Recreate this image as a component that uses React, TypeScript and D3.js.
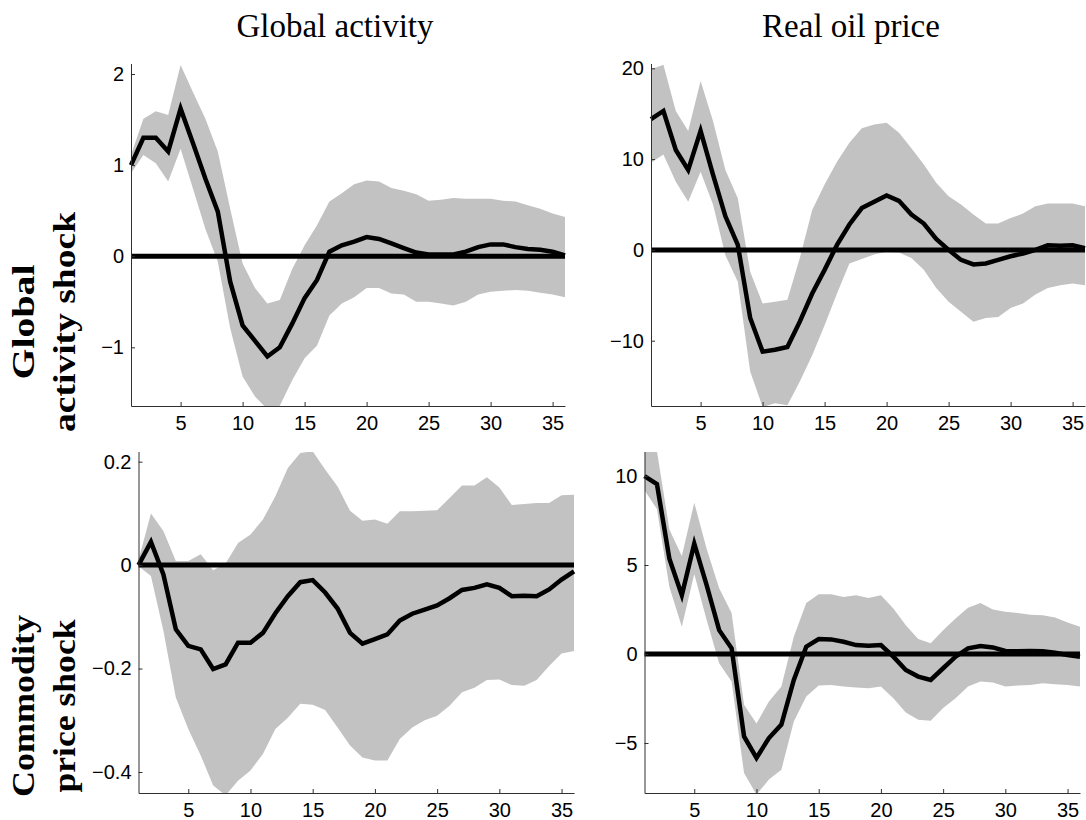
import React, { useRef, useEffect } from 'react';
import * as d3 from 'd3';

const horizon = [1, 2, 3, 4, 5, 6, 7, 8, 9, 10, 11, 12, 13, 14, 15, 16, 17, 18, 19, 20, 21, 22, 23, 24, 25, 26, 27, 28, 29, 30, 31, 32, 33, 34, 35, 36];
const xTicks = [5, 10, 15, 20, 25, 30, 35];
const colTitles = ['Global activity', 'Real oil price'];
const rowTitles = [['Global', 'activity shock'], ['Commodity', 'price shock']];

// global activity shock -> global activity
const actOnAct = [1.00, 1.30, 1.30, 1.15, 1.62, 1.24, 0.85, 0.49, -0.28, -0.76, -0.93, -1.10, -1.00, -0.74, -0.46, -0.26, 0.05, 0.12, 0.16, 0.21, 0.19, 0.14, 0.09, 0.04, 0.02, 0.02, 0.02, 0.05, 0.10, 0.13, 0.13, 0.10, 0.08, 0.07, 0.05, 0.01];
const actOnActUpper = [1.11, 1.51, 1.59, 1.55, 2.10, 1.80, 1.51, 1.15, 0.52, -0.08, -0.35, -0.52, -0.48, -0.14, 0.12, 0.34, 0.60, 0.69, 0.79, 0.83, 0.82, 0.75, 0.72, 0.68, 0.61, 0.62, 0.64, 0.63, 0.63, 0.63, 0.61, 0.60, 0.56, 0.52, 0.47, 0.43];
const actOnActLower = [0.91, 1.11, 1.02, 0.82, 1.18, 0.74, 0.30, -0.06, -0.79, -1.32, -1.54, -1.68, -1.64, -1.36, -1.12, -0.98, -0.65, -0.52, -0.45, -0.35, -0.35, -0.41, -0.42, -0.50, -0.50, -0.52, -0.54, -0.50, -0.42, -0.39, -0.38, -0.37, -0.38, -0.40, -0.42, -0.45];
const actOnActTicks = [-1, 0, 1, 2];

// global activity shock -> real oil price
const actOnOil = [14.4, 15.3, 11.0, 8.8, 13.1, 8.3, 3.7, 0.55, -7.5, -11.2, -11.0, -10.7, -7.9, -4.8, -2.2, 0.55, 2.8, 4.6, 5.3, 6.0, 5.4, 3.9, 2.9, 1.2, 0.0, -1.1, -1.6, -1.5, -1.1, -0.7, -0.4, 0.0, 0.5, 0.45, 0.5, 0.2];
const actOnOilUpper = [19.9, 20.4, 15.3, 13.1, 18.6, 14.2, 8.8, 5.7, -2.4, -5.9, -5.7, -5.5, -0.9, 4.4, 7.2, 9.7, 11.8, 13.4, 13.8, 14.0, 12.9, 11.2, 9.4, 7.4, 5.9, 5.0, 3.9, 2.9, 2.9, 3.5, 4.0, 4.8, 5.1, 5.1, 5.1, 4.8];
const actOnOilLower = [9.6, 10.5, 7.5, 5.3, 8.6, 5.0, -0.6, -3.5, -13.4, -17.3, -16.9, -17.1, -14.5, -11.6, -8.3, -4.8, -1.5, -1.0, -0.5, -0.2, -0.3, -0.9, -2.2, -4.2, -5.7, -6.8, -7.9, -7.5, -7.4, -6.4, -5.9, -4.9, -4.2, -3.9, -3.7, -3.9];
const actOnOilTicks = [-10, 0, 10, 20];

// commodity price shock -> global activity
const comOnAct = [0.0, 0.045, -0.018, -0.124, -0.156, -0.163, -0.201, -0.192, -0.150, -0.150, -0.131, -0.093, -0.060, -0.033, -0.029, -0.053, -0.084, -0.131, -0.152, -0.143, -0.134, -0.107, -0.094, -0.086, -0.078, -0.064, -0.048, -0.044, -0.037, -0.044, -0.060, -0.059, -0.060, -0.047, -0.028, -0.012];
const comOnActUpper = [0.01, 0.10, 0.066, 0.008, 0.008, 0.021, -0.010, 0.003, 0.043, 0.059, 0.088, 0.133, 0.188, 0.217, 0.220, 0.185, 0.152, 0.105, 0.086, 0.088, 0.080, 0.104, 0.104, 0.105, 0.106, 0.130, 0.154, 0.154, 0.170, 0.150, 0.116, 0.118, 0.120, 0.120, 0.135, 0.136];
const comOnActLower = [-0.002, -0.021, -0.127, -0.256, -0.317, -0.368, -0.426, -0.445, -0.417, -0.397, -0.365, -0.317, -0.295, -0.268, -0.270, -0.280, -0.314, -0.349, -0.372, -0.378, -0.378, -0.336, -0.314, -0.300, -0.291, -0.272, -0.246, -0.237, -0.222, -0.221, -0.232, -0.233, -0.222, -0.195, -0.171, -0.166];
const comOnActTicks = [-0.4, -0.2, 0, 0.2];

// commodity price shock -> real oil price
const comOnOil = [10.0, 9.55, 5.35, 3.3, 6.2, 3.86, 1.34, 0.32, -4.63, -5.84, -4.72, -3.97, -1.46, 0.41, 0.84, 0.82, 0.69, 0.50, 0.47, 0.50, -0.15, -0.90, -1.27, -1.46, -0.80, -0.15, 0.32, 0.45, 0.37, 0.17, 0.15, 0.17, 0.15, 0.07, -0.06, -0.15];
const comOnOilUpper = [11.5, 11.4, 7.0, 5.5, 8.5, 5.9, 3.7, 2.3, -2.85, -3.9, -2.67, -1.83, 0.97, 2.87, 3.36, 3.36, 3.2, 3.3, 3.15, 3.3, 2.56, 1.62, 0.84, 0.6, 1.34, 2.0, 2.6, 2.87, 2.5, 2.37, 2.3, 2.2, 2.18, 2.05, 1.77, 1.53];
const comOnOilLower = [9.2, 8.15, 3.77, 1.53, 4.5, 1.9, -0.52, -1.55, -6.68, -7.9, -7.05, -6.5, -3.79, -2.39, -1.77, -1.74, -1.83, -1.88, -1.92, -1.83, -2.48, -3.28, -3.69, -3.75, -3.04, -2.48, -1.83, -1.55, -1.6, -1.83, -1.77, -1.74, -1.64, -1.7, -1.74, -1.83];
const comOnOilTicks = [-5, 0, 5, 10];

const App = () => {
    const ref = useRef<SVGSVGElement>(null);

    useEffect(() => {
        const svg = d3.select(ref.current);
        svg.selectAll('*').remove();

        const panels = [
            { line: actOnAct, upper: actOnActUpper, lower: actOnActLower, ticks: actOnActTicks, domain: [-1.644, 2.11], left: 131, right: 565, top: 64, bottom: 406 },
            { line: actOnOil, upper: actOnOilUpper, lower: actOnOilLower, ticks: actOnOilTicks, domain: [-17.19, 20.47], left: 651, right: 1085, top: 64, bottom: 406 },
            { line: comOnAct, upper: comOnActUpper, lower: comOnActLower, ticks: comOnActTicks, domain: [-0.4406, 0.2187], left: 138.5, right: 574, top: 452, bottom: 793 },
            { line: comOnOil, upper: comOnOilUpper, lower: comOnOilLower, ticks: comOnOilTicks, domain: [-7.81, 11.35], left: 644.5, right: 1080, top: 452, bottom: 793 },
        ];

        const axisColor = '#303030';
        const tickFont = "'Liberation Sans', Arial, Helvetica, sans-serif";

        panels.forEach((p, i) => {
            const x = d3.scaleLinear().domain(d3.extent(horizon) as [number, number]).range([p.left, p.right]);
            const y = d3.scaleLinear().domain(p.domain).range([p.bottom, p.top]);

            const clipId = `panel-clip-${i}`;
            svg.append('clipPath').attr('id', clipId)
                .append('rect')
                .attr('x', p.left).attr('y', p.top)
                .attr('width', p.right - p.left).attr('height', p.bottom - p.top);

            const g = svg.append('g');

            // confidence band
            const band = d3.area<number>()
                .x((d, j) => x(horizon[j]))
                .y0((d, j) => y(p.lower[j]))
                .y1((d, j) => y(p.upper[j]));
            g.append('path')
                .datum(p.upper)
                .attr('clip-path', `url(#${clipId})`)
                .attr('fill', '#c2c2c2')
                .attr('d', band);

            // zero line
            g.append('line')
                .attr('x1', x(horizon[0])).attr('x2', x(horizon[horizon.length - 1]))
                .attr('y1', y(0)).attr('y2', y(0))
                .attr('stroke', '#000').attr('stroke-width', 5);

            // impulse response
            const line = d3.line<number>()
                .x((d, j) => x(horizon[j]))
                .y(d => y(d));
            g.append('path')
                .datum(p.line)
                .attr('fill', 'none')
                .attr('stroke', '#000')
                .attr('stroke-width', 4.5)
                .attr('d', line);

            // axes, ticks pointing inward
            const xAxis = g.append('g')
                .attr('transform', `translate(0,${p.bottom})`)
                .call(d3.axisBottom(x).tickValues(xTicks).tickSizeInner(-4).tickSizeOuter(0).tickPadding(10).tickFormat(d3.format('d')));
            const yAxis = g.append('g')
                .attr('transform', `translate(${p.left},0)`)
                .call(d3.axisLeft(y).tickValues(p.ticks).tickSizeInner(-4).tickSizeOuter(0).tickPadding(7).tickFormat(d3.format('~g')));

            [xAxis, yAxis].forEach(ax => {
                ax.attr('font-family', tickFont).attr('font-size', 20);
                ax.select('.domain').attr('stroke', axisColor);
                ax.selectAll('.tick line').attr('stroke', axisColor);
                ax.selectAll('.tick text').attr('fill', '#000');
            });
            // y axis runs the full height of the panel
            yAxis.select('.domain').attr('d', `M0.5,${p.top}V${p.bottom + 0.5}`);
        });

        // column titles
        const titleX = [335, 851];
        colTitles.forEach((t, i) => {
            svg.append('text')
                .attr('x', titleX[i]).attr('y', 37)
                .attr('text-anchor', 'middle')
                .attr('font-family', "'Liberation Serif', 'Times New Roman', serif")
                .attr('font-size', 33)
                .attr('fill', '#000')
                .text(t);
        });

        // row titles, rotated
        const rowCenter = [322, 706];
        const lineX = [34, 75];
        const lineLen = [[115, 220], [182, 173]];
        rowTitles.forEach((lines, r) => {
            lines.forEach((t, k) => {
                svg.append('text')
                    .attr('transform', `translate(${lineX[k]},${rowCenter[r]}) rotate(-90)`)
                    .attr('text-anchor', 'middle')
                    .attr('font-family', "'Liberation Serif', 'Times New Roman', serif")
                    .attr('font-weight', 'bold')
                    .attr('font-size', 31)
                    .attr('textLength', lineLen[r][k])
                    .attr('lengthAdjust', 'spacingAndGlyphs')
                    .attr('fill', '#000')
                    .text(t);
            });
        });
    }, []);

    return (
        <svg ref={ref} width={1086} height={820}
            style={{ position: 'absolute', top: 0, left: 0, background: '#fff' }} />
    );
};

export default App;
